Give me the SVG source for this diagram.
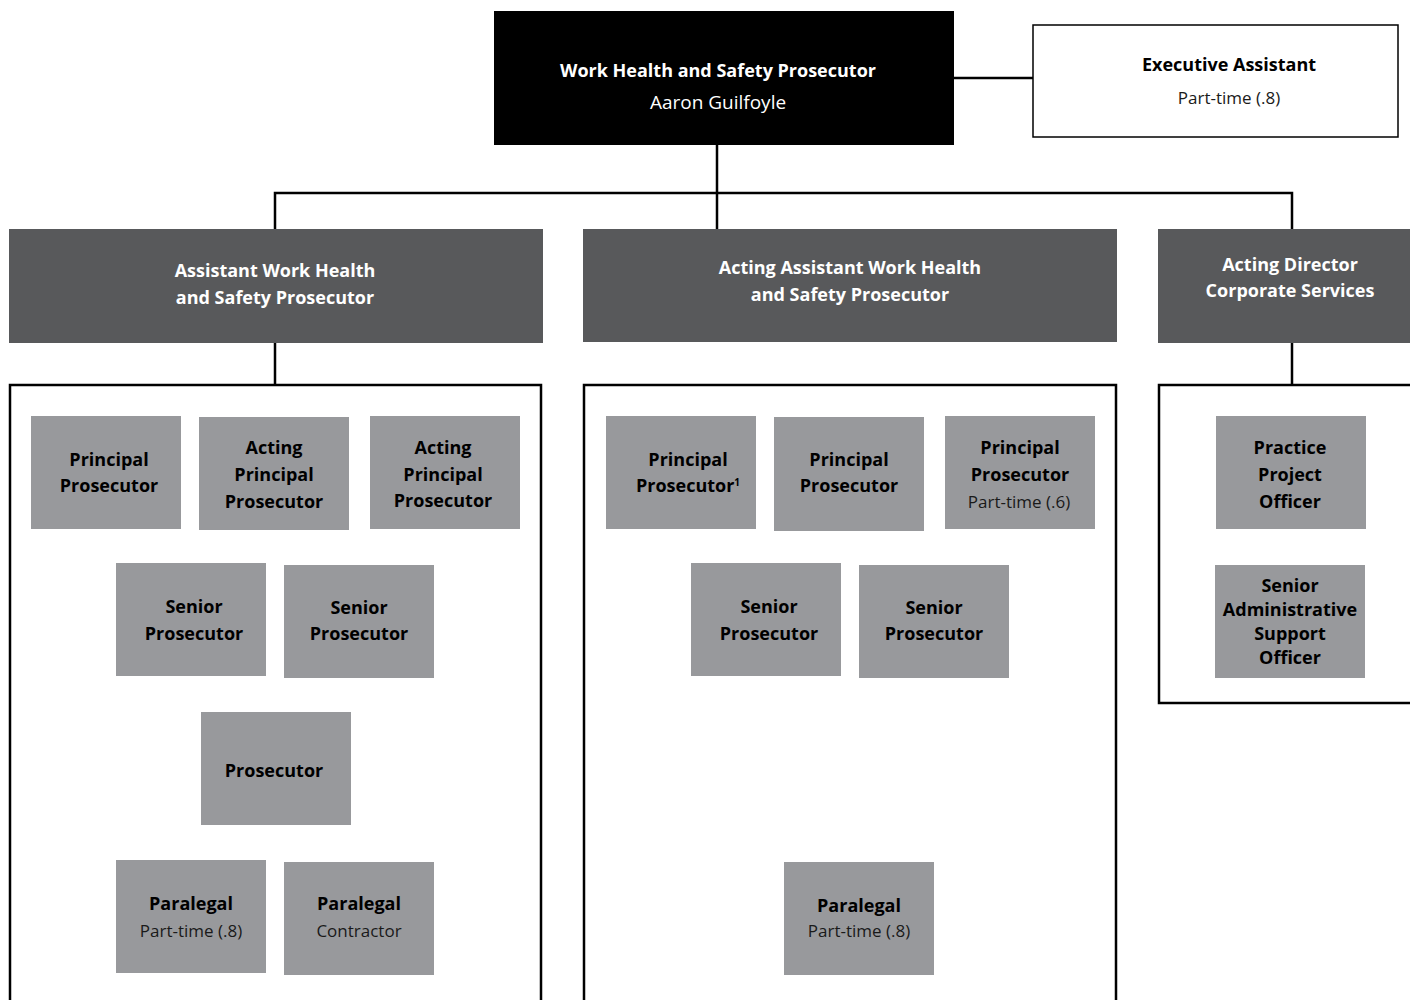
<svg xmlns="http://www.w3.org/2000/svg" width="1410" height="1000" viewBox="0 0 1410 1000">
<style>
text{font-family:"Open Sans","Noto Sans","Liberation Sans",sans-serif;text-anchor:middle}
.b{font-weight:700;font-size:18px;fill:#000}
.r{font-weight:400;font-size:17px;fill:#1a1a1a}
.w{font-weight:700;font-size:18px;fill:#fff}
.wr{font-weight:400;font-size:19px;fill:#fff}
.hd{fill:#58595b}
.g{fill:#98999c}
.ln{stroke:#000;stroke-width:2.5;fill:none}
.ct{stroke:#000;stroke-width:2.5;fill:#fff}
</style>
<rect width="1410" height="1000" fill="#fff"/>
<g id="connectors">
<path class="ln" d="M954 78H1033"/>
<path class="ln" d="M717 145V193M275 229V193H1292V229M717 193V229"/>
<path class="ln" d="M275 343V385M1292 343V385"/>
</g>
<g id="containers">
<rect class="ct" x="10" y="385" width="531" height="620"/>
<rect class="ct" x="584" y="385" width="532" height="620"/>
<rect class="ct" x="1159" y="385" width="260" height="318"/>
</g>
<g id="wsp">
<rect x="494" y="11" width="460" height="134" fill="#000"/>
<text class="w" x="718" y="77">Work Health and Safety Prosecutor</text>
<text class="wr" x="718" y="109">Aaron Guilfoyle</text>
</g>
<g id="exec">
<rect x="1033" y="25" width="365" height="112" fill="#fff" stroke="#000" stroke-width="1.5"/>
<text class="b" x="1229" y="71">Executive Assistant</text>
<text class="r" x="1229" y="104">Part-time (.8)</text>
</g>
<g id="awhsp">
<rect class="hd" x="9" y="229" width="534" height="114"/>
<text class="w" x="275" y="277">Assistant Work Health</text>
<text class="w" x="275" y="304">and Safety Prosecutor</text>
</g>
<g id="aawhsp">
<rect class="hd" x="583" y="229" width="534" height="113"/>
<text class="w" x="850" y="274">Acting Assistant Work Health</text>
<text class="w" x="850" y="301">and Safety Prosecutor</text>
</g>
<g id="adcs">
<rect class="hd" x="1158" y="229" width="252" height="114"/>
<text class="w" x="1290" y="271">Acting Director</text>
<text class="w" x="1290" y="297">Corporate Services</text>
</g>
<g id="l-pp">
<rect class="g" x="31" y="416" width="150" height="113"/>
<text class="b" x="109" y="466">Principal</text>
<text class="b" x="109" y="492">Prosecutor</text>
</g>
<g id="l-app1">
<rect class="g" x="199" y="417" width="150" height="113"/>
<text class="b" x="274" y="454">Acting</text>
<text class="b" x="274" y="481">Principal</text>
<text class="b" x="274" y="508">Prosecutor</text>
</g>
<g id="l-app2">
<rect class="g" x="370" y="416" width="150" height="113"/>
<text class="b" x="443" y="454">Acting</text>
<text class="b" x="443" y="481">Principal</text>
<text class="b" x="443" y="507">Prosecutor</text>
</g>
<g id="l-sp1">
<rect class="g" x="116" y="563" width="150" height="113"/>
<text class="b" x="194" y="613">Senior</text>
<text class="b" x="194" y="640">Prosecutor</text>
</g>
<g id="l-sp2">
<rect class="g" x="284" y="565" width="150" height="113"/>
<text class="b" x="359" y="614">Senior</text>
<text class="b" x="359" y="640">Prosecutor</text>
</g>
<g id="l-p">
<rect class="g" x="201" y="712" width="150" height="113"/>
<text class="b" x="274" y="777">Prosecutor</text>
</g>
<g id="l-para1">
<rect class="g" x="116" y="860" width="150" height="113"/>
<text class="b" x="191" y="910">Paralegal</text>
<text class="r" x="191" y="937">Part-time (.8)</text>
</g>
<g id="l-para2">
<rect class="g" x="284" y="862" width="150" height="113"/>
<text class="b" x="359" y="910">Paralegal</text>
<text class="r" x="359" y="937">Contractor</text>
</g>
<g id="m-pp1">
<rect class="g" x="606" y="416" width="150" height="113"/>
<text class="b" x="688" y="466">Principal</text>
<text class="b" x="688" y="492">Prosecutor<tspan font-size="10" dy="-6">1</tspan></text>
</g>
<g id="m-pp2">
<rect class="g" x="774" y="417" width="150" height="114"/>
<text class="b" x="849" y="466">Principal</text>
<text class="b" x="849" y="492">Prosecutor</text>
</g>
<g id="m-pp3">
<rect class="g" x="945" y="416" width="150" height="113"/>
<text class="b" x="1020" y="454">Principal</text>
<text class="b" x="1020" y="481">Prosecutor</text>
<text class="r" x="1019" y="508">Part-time (.6)</text>
</g>
<g id="m-sp1">
<rect class="g" x="691" y="563" width="150" height="113"/>
<text class="b" x="769" y="613">Senior</text>
<text class="b" x="769" y="640">Prosecutor</text>
</g>
<g id="m-sp2">
<rect class="g" x="859" y="565" width="150" height="113"/>
<text class="b" x="934" y="614">Senior</text>
<text class="b" x="934" y="640">Prosecutor</text>
</g>
<g id="m-para">
<rect class="g" x="784" y="862" width="150" height="113"/>
<text class="b" x="859" y="912">Paralegal</text>
<text class="r" x="859" y="937">Part-time (.8)</text>
</g>
<g id="r-ppo">
<rect class="g" x="1216" y="416" width="150" height="113"/>
<text class="b" x="1290" y="454">Practice</text>
<text class="b" x="1290" y="481">Project</text>
<text class="b" x="1290" y="508">Officer</text>
</g>
<g id="r-saso">
<rect class="g" x="1215" y="565" width="150" height="113"/>
<text class="b" x="1290" y="592">Senior</text>
<text class="b" x="1290" y="616">Administrative</text>
<text class="b" x="1290" y="640">Support</text>
<text class="b" x="1290" y="664">Officer</text>
</g>
</svg>
